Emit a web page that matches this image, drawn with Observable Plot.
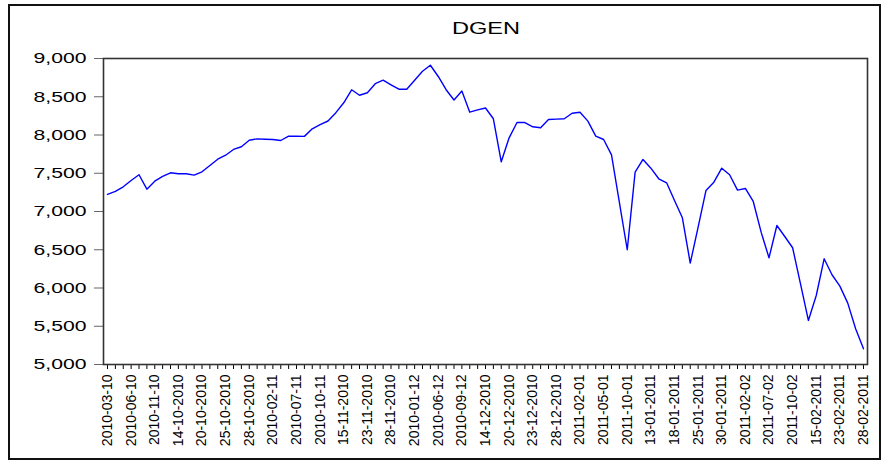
<!DOCTYPE html>
<html>
<head>
<meta charset="utf-8">
<script src="https://cdn.jsdelivr.net/npm/d3@7"></script>
<script src="https://cdn.jsdelivr.net/npm/@observablehq/plot@0.6"></script>
<style>
  html, body { margin: 0; padding: 0; background: #fff; }
  #chart svg { display: block; }
</style>
</head>
<body>
<div id="chart"></div>
<script>
const title = "DGEN";

// Tick labels (every 3rd observation)
const tickLabels = [
  "2010-03-10","2010-06-10","2010-11-10","14-10-2010","20-10-2010","25-10-2010",
  "28-10-2010","2010-02-11","2010-07-11","2010-10-11","15-11-2010","23-11-2010",
  "28-11-2010","2010-01-12","2010-06-12","2010-09-12","14-12-2010","20-12-2010",
  "23-12-2010","28-12-2010","2011-02-01","2011-05-01","2011-10-01","13-01-2011",
  "18-01-2011","25-01-2011","30-01-2011","2011-02-02","2011-07-02","2011-10-02",
  "15-02-2011","23-02-2011","28-02-2011"
];

// DGEN series values (97 observations)
const dgen = [
  7223, 7262, 7323, 7405, 7480, 7292, 7396, 7458, 7506, 7493,
  7493, 7475, 7519, 7602, 7684, 7736, 7811, 7846, 7932, 7950,
  7945, 7941, 7928, 7984, 7984, 7982, 8081, 8137, 8183, 8292,
  8421, 8591, 8520, 8552, 8671, 8716, 8656, 8599, 8599, 8716,
  8834, 8912, 8765, 8592, 8458, 8575, 8298, 8329, 8353, 8212,
  7650, 7963, 8163, 8163, 8107, 8094, 8203, 8207, 8212, 8285,
  8298, 8181, 7985, 7941, 7741, 7120, 6500, 7514, 7680, 7566,
  7428, 7375, 7144, 6918, 6325, 6795, 7275, 7383, 7566, 7480,
  7279, 7301, 7131, 6730, 6395, 6817, 6673, 6526, 6055, 5576,
  5902, 6382, 6173, 6024, 5802, 5467, 5206
];

const yTicks = [5000, 5500, 6000, 6500, 7000, 7500, 8000, 8500, 9000];

const data = dgen.map((v, i) => ({ i, v }));
const n = dgen.length;

const chart = Plot.plot({
  width: 881,
  height: 460,
  marginLeft: 103,
  marginRight: 14,
  marginTop: 58,
  marginBottom: 96,
  style: { fontFamily: "'Liberation Sans', Arial, sans-serif", background: "#fff", color: "#000" },
  x: { type: "linear", domain: [-0.508, n - 1 + 0.508], label: null },
  y: { domain: [5000, 9000], label: null },
  marks: [
    Plot.axisY({
      ticks: yTicks,
      tickFormat: d3.format(","),
      tickSize: 9,
      tickPadding: 8,
      fontSize: 15.5,
      stroke: "#666",
      fill: "#000",
      label: null
    }),
    Plot.axisX({
      ticks: d3.range(n),
      tickFormat: (d) => (d % 3 === 0 ? tickLabels[d / 3] : ""),
      tickRotate: -90,
      tickSize: 5,
      tickPadding: 5,
      fontSize: 14,
      stroke: "#000",
      fill: "#000",
      label: null
    }),
    Plot.line(data, { x: "i", y: "v", stroke: "#0000ff", strokeWidth: 1.4 }),
    Plot.frame({ stroke: "#333", strokeWidth: 1.6 })
  ]
});

document.getElementById("chart").appendChild(chart);

// Post-process: stretched y labels, outer border, title
const svg = d3.select(chart);
svg.selectAll('g[aria-label="y-axis tick label"] text')
  .attr("textLength", 53)
  .attr("lengthAdjust", "spacingAndGlyphs");

svg.append("rect")
  .attr("x", 9).attr("y", 5)
  .attr("width", 871).attr("height", 454)
  .attr("fill", "none").attr("stroke", "#111").attr("stroke-width", 2);

svg.append("text")
  .attr("x", 486).attr("y", 34)
  .attr("text-anchor", "middle")
  .attr("font-size", 17)
  .attr("textLength", 68)
  .attr("lengthAdjust", "spacingAndGlyphs")
  .attr("fill", "#000")
  .text(title);
</script>
</body>
</html>
